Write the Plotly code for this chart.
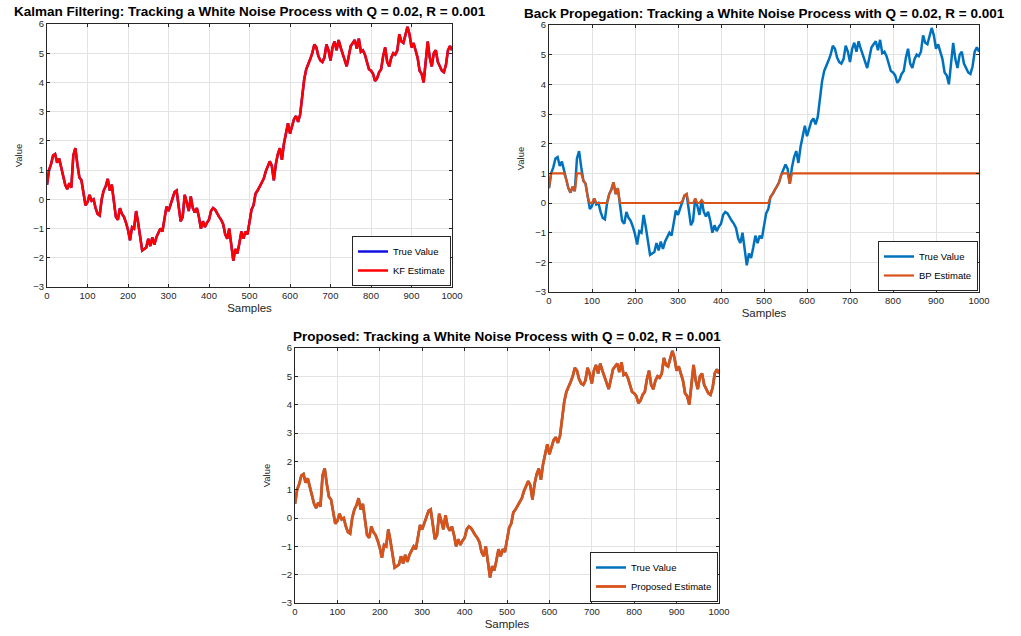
import numpy as np
import plotly.graph_objects as go

samples = list(range(0, 1001, 5))
true_value = [
    0.5, 1.0, 1.2, 1.5, 1.55, 1.25, 1.4, 1.05, 0.8, 0.5,
    0.35, 0.55, 0.4, 1.5, 1.75, 1.2, 0.75, 0.65, 0.2, -0.2,
    -0.1, 0.15, -0.05, 0.0, -0.3, -0.5, -0.55, 0.0, 0.3, 0.45,
    0.7, 0.3, 0.5, 0.0, -0.6, -0.7, -0.3, -0.5, -0.6, -0.8,
    -1.05, -1.4, -0.95, -1.0, -0.4, -0.8, -1.3, -1.75, -1.7, -1.65,
    -1.35, -1.6, -1.3, -1.55, -1.3, -1.15, -1.0, -1.1, -0.6, -0.25,
    -0.4, -0.2, 0.05, 0.25, 0.3, -0.3, -0.75, -0.6, 0.15, -0.1,
    -0.4, 0.1, -0.3, -0.45, -0.3, -0.6, -1.0, -0.75, -0.95, -0.8,
    -0.7, -0.4, -0.3, -0.35, -0.5, -0.6, -0.7, -0.85, -1.2, -1.35,
    -1.0, -1.6, -2.1, -1.7, -1.85, -1.5, -1.1, -1.35, -1.1, -1.2,
    -0.7, -0.35, -0.2, 0.2, 0.3, 0.45, 0.55, 0.7, 0.95, 1.1,
    1.3, 1.15, 0.65, 1.2, 1.55, 1.75, 1.35, 1.9, 2.3, 2.6,
    2.25, 2.55, 2.75, 2.85, 2.65, 2.9, 3.6, 4.1, 4.45, 4.6,
    4.8, 5.0, 5.3, 5.2, 4.9, 4.75, 4.7, 4.85, 5.3, 5.1,
    4.75, 5.2, 5.4, 5.1, 5.45, 5.2, 5.0, 4.8, 4.55, 4.9,
    5.25, 5.35, 5.45, 5.15, 5.5, 5.05, 5.1, 4.95, 4.65, 4.45,
    4.4, 4.3, 4.05, 4.15, 4.35, 4.45, 4.9, 5.2, 4.7, 4.55,
    4.85, 5.0, 4.95, 5.1, 5.65, 5.4, 5.35, 5.6, 5.9, 5.65,
    5.2, 5.35, 5.05, 4.85, 4.4, 4.3, 4.0, 4.65, 5.4, 4.85,
    4.55, 5.0, 5.1, 4.7, 4.55, 4.4, 4.35, 4.6, 5.1, 5.25,
    5.1,
]
kf_estimate = list(true_value)
# BP output saturates between 0 and 1
bp_estimate = list(np.clip(true_value, 0, 1))
proposed_estimate = list(true_value)

x_ticks = list(range(0, 1001, 100))
y_ticks = list(range(-3, 7))

titles = [
    "Kalman Filtering: Tracking a White Noise Process with Q = 0.02, R = 0.001",
    "Back Propegation: Tracking a White Noise Process with Q = 0.02, R = 0.001",
    "Proposed: Tracking a White Noise Process with Q = 0.02, R = 0.001",
]

W, H = 1021, 636
def xd(a, b):
    return [a / W, b / W]
def yd(top, bottom):
    return [1 - bottom / H, 1 - top / H]

boxes = [
    (47, 452, 24, 287),
    (549, 979, 25, 292),
    (295, 719, 348, 603),
]

FONT = "Liberation Sans, Arial, sans-serif"
fig = go.Figure()

BLUE = "#0072BD"
ORANGE = "#D95319"

fig.add_trace(go.Scatter(x=samples, y=true_value, mode="lines", name="True Value",
                         line=dict(color="#1010E0", width=2.5), xaxis="x", yaxis="y", legend="legend"))
fig.add_trace(go.Scatter(x=samples, y=kf_estimate, mode="lines", name="KF Estimate",
                         line=dict(color="#FF0000", width=2.5), xaxis="x", yaxis="y", legend="legend"))
fig.add_trace(go.Scatter(x=samples, y=true_value, mode="lines", name="True Value",
                         line=dict(color=BLUE, width=2.5), xaxis="x2", yaxis="y2", legend="legend2"))
fig.add_trace(go.Scatter(x=samples, y=bp_estimate, mode="lines", name="BP Estimate",
                         line=dict(color=ORANGE, width=2.2), xaxis="x2", yaxis="y2", legend="legend2"))
fig.add_trace(go.Scatter(x=samples, y=true_value, mode="lines", name="True Value",
                         line=dict(color=BLUE, width=2.5), xaxis="x3", yaxis="y3", legend="legend3"))
fig.add_trace(go.Scatter(x=samples, y=proposed_estimate, mode="lines", name="Proposed Estimate",
                         line=dict(color=ORANGE, width=2.8), xaxis="x3", yaxis="y3", legend="legend3"))

layout = dict(
    width=W, height=H,
    margin=dict(l=0, r=0, t=0, b=0, autoexpand=False),
    paper_bgcolor="white", plot_bgcolor="white",
    font=dict(family=FONT, size=9, color="#262626"),
    showlegend=True,
)
annotations = []
for i, (x0, x1, y0, y1) in enumerate(boxes):
    sfx = "" if i == 0 else str(i + 1)
    layout["xaxis" + sfx] = dict(
        domain=xd(x0, x1), range=[0, 1000], anchor="y" + sfx, automargin=False,
        tickvals=x_ticks, ticks="inside", ticklen=3, tickcolor="#262626",
        showline=True, linecolor="#262626", linewidth=1, mirror="ticks",
        showgrid=True, gridcolor="#E3E3E3", gridwidth=1, zeroline=False,
        tickfont=dict(size=9.5, color="#262626"),
        title=dict(text="Samples", font=dict(size=11.5, color="#262626"), standoff=3),
    )
    layout["yaxis" + sfx] = dict(
        domain=yd(y0, y1), range=[-3, 6], anchor="x" + sfx, automargin=False,
        tickvals=y_ticks, ticks="inside", ticklen=3, tickcolor="#262626",
        showline=True, linecolor="#262626", linewidth=1, mirror="ticks",
        showgrid=True, gridcolor="#E3E3E3", gridwidth=1, zeroline=False,
        tickfont=dict(size=9.5, color="#262626"),
        title=dict(text="Value", font=dict(size=9.5, color="#262626"), standoff=8),
    )
    leg = "legend" if i == 0 else "legend" + str(i + 1)
    layout[leg] = dict(
        x=(x1 - 1) / W, y=1 - (y1 - 1) / H, xanchor="right", yanchor="bottom",
        bgcolor="white", bordercolor="#262626", borderwidth=1,
        font=dict(size=9.5, color="#000000"), tracegroupgap=0,
        itemwidth=30,
    )
    annotations.append(dict(
        text="<b>" + titles[i] + "</b>", x=(x0 + x1) / 2 / W, y=1 - (y0 - 12) / H,
        xref="paper", yref="paper", xanchor="center", yanchor="middle",
        showarrow=False, font=dict(size=13.5, color="#000000", family=FONT),
    ))
layout["annotations"] = annotations
fig.update_layout(**layout)
fig.write_html("out.html", config={"displayModeBar": False},
               post_script="document.body.style.margin='0px';")
